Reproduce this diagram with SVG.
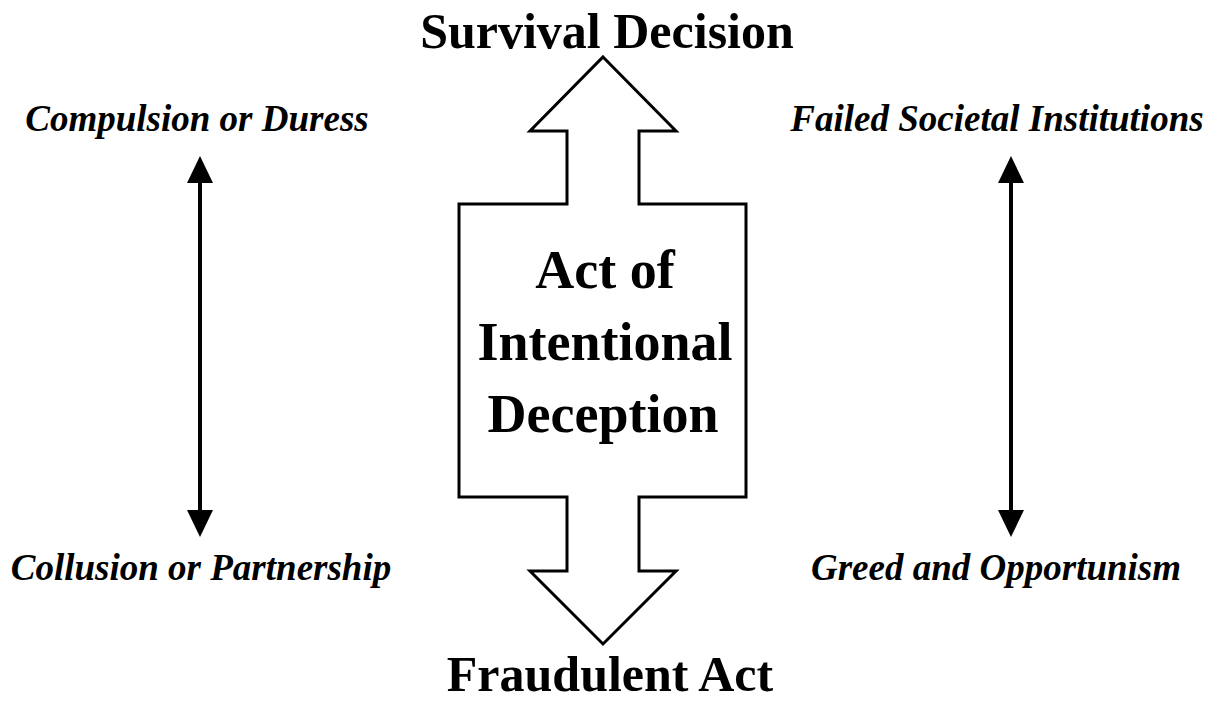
<svg xmlns="http://www.w3.org/2000/svg" width="1222" height="702" viewBox="0 0 1222 702">
<style>
.title{font-family:"Liberation Serif","Times New Roman",serif;font-weight:bold;font-size:50px;fill:#000;text-anchor:middle}
.center{font-family:"Liberation Serif","Times New Roman",serif;font-weight:bold;font-size:54px;fill:#000;text-anchor:middle}
.lab{font-family:"Liberation Serif","Times New Roman",serif;font-weight:bold;font-style:italic;font-size:37px;fill:#000;text-anchor:middle}
.dbl{stroke:#000;stroke-width:4;fill:none;marker-start:url(#head);marker-end:url(#head)}
</style>
<defs>
<marker id="head" markerUnits="userSpaceOnUse" viewBox="0 0 27 26" markerWidth="27" markerHeight="26" refX="0" refY="13" orient="auto-start-reverse">
<path d="M0,0 L27,13 L0,26 z" fill="#000"/>
</marker>
</defs>
<rect width="1222" height="702" fill="#fff"/>
<g id="main-arrow">
<path d="M603,57 L676,131 L639,131 L639,204 L746,204 L746,497 L639,497 L639,571 L676,571 L603,644 L530,571 L567,571 L567,497 L459,497 L459,204 L567,204 L567,131 L530,131 Z" fill="#fff" stroke="#000" stroke-width="3" stroke-linejoin="miter"/>
<text class="center" x="605" y="288">Act of</text>
<text class="center" x="605" y="360">Intentional</text>
<text class="center" x="603" y="432">Deception</text>
</g>
<g id="survival">
<text class="title" x="607" y="48">Survival Decision</text>
</g>
<g id="fraudulent">
<text class="title" x="610" y="691">Fraudulent Act</text>
</g>
<g id="compulsion">
<text class="lab" x="197" y="131">Compulsion or Duress</text>
</g>
<g id="collusion">
<text class="lab" x="201" y="580">Collusion or Partnership</text>
</g>
<g id="failed">
<text class="lab" x="997" y="131">Failed Societal Institutions</text>
</g>
<g id="greed">
<text class="lab" x="996" y="580">Greed and Opportunism</text>
</g>
<g id="connectors">
<line class="dbl" x1="200" y1="183" x2="200" y2="510"/>
<line class="dbl" x1="1011" y1="183" x2="1011" y2="510"/>
</g>
</svg>
